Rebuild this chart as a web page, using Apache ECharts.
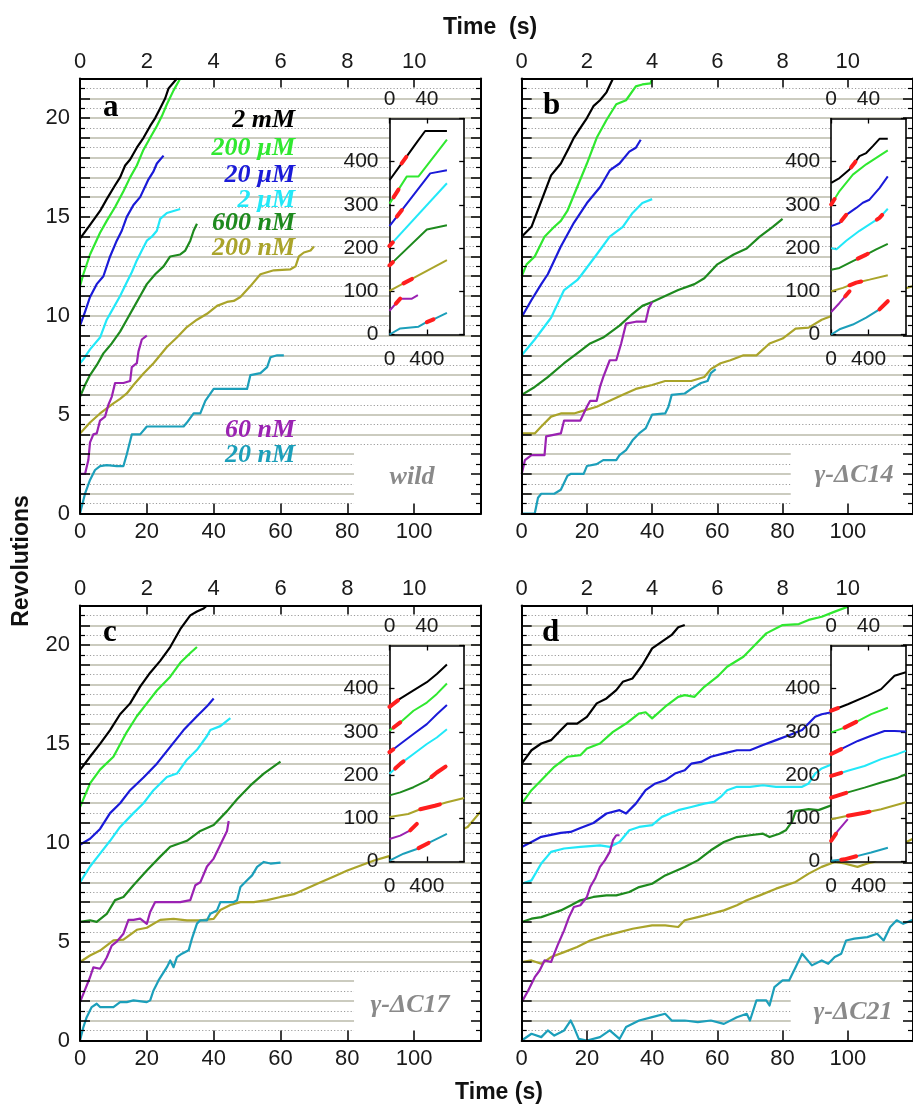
<!DOCTYPE html>
<html><head><meta charset="utf-8">
<script src="https://cdn.jsdelivr.net/npm/echarts@6/dist/echarts.min.js"></script>
<style>html,body{margin:0;padding:0;background:#fff}#c{width:913px;height:1108px}</style>
</head><body><div id="c"></div>
<script>
// ---------------- labels & colours ----------------
const concLabels = ['2 mM','200 µM','20 µM','2 µM','600 nM','200 nM','60 nM','20 nM'];
const lineColors = ['#000000','#30e830','#1a1ad8','#22e8f8','#1e8a1e','#aaa42a','#9a22b2','#1c9fba'];
const strainLabels = ['wild','γ-ΔC14','γ-ΔC17','γ-ΔC21'];
const panelLetters = ['a','b','c','d'];

// ---------------- panel a (wild) : [time s, revolutions] ----------------
const a_2mM   = [[0,13.9],[3,14.6],[6,15.3],[8,15.9],[10.5,16.6],[12,17.0],[13.5,17.6],[15,17.9],[17,18.5],[19,19.0],[21,19.6],[22.5,20.0],[24,20.5],[25.5,21.0],[26.5,21.5],[28,21.8],[29,22]];
const a_200uM = [[0,11.5],[1,12.1],[3,13.1],[6,14.2],[8,14.8],[10.5,15.5],[13,16.3],[15,17.0],[17,17.6],[19,18.4],[21,19.0],[23,19.6],[24.5,20.1],[26,20.7],[28,21.4],[30,22]];
const a_20uM  = [[0,9.5],[1.5,10.2],[3,10.95],[5,11.6],[7,12.0],[9,13.0],[11,13.8],[12.5,14.3],[14,15.0],[16,15.6],[18,16.0],[20.5,16.9],[22,17.3],[23,17.7],[25,18.1]];
const a_2uM   = [[0,7.6],[1,7.8],[3,8.3],[6,8.9],[8,9.8],[10,10.4],[12,11.0],[14,11.7],[15.5,12.2],[17,12.8],[18.5,13.3],[20,13.8],[21.5,14.0],[23,14.3],[24,14.9],[26,15.2],[28,15.3],[30,15.4]];
const a_600nM = [[0,5.9],[1.5,6.5],[3,7.0],[5,7.5],[7,8.1],[9.5,8.6],[12,9.2],[14,9.8],[16,10.4],[18,11.0],[20,11.6],[22.5,12.1],[25,12.5],[27,13.0],[30,13.1],[31.5,13.3],[33,13.8],[34,14.3],[35,14.65]];
const a_200nM = [[0,4.05],[3,4.6],[6,5.06],[10,5.57],[12,5.8],[14,6.07],[16,6.5],[19,7.08],[22,7.6],[26,8.42],[29,8.9],[32,9.43],[35,9.8],[38,10.1],[41,10.5],[44,10.7],[46,10.75],[48,10.95],[51,11.5],[54,12.1],[56,12.2],[58,12.3],[63,12.35],[64.5,12.5],[65.5,13.0],[67,13.2],[69,13.3],[70,13.5]];
const a_60nM  = [[0,2.0],[1.5,2.0],[2.5,2.7],[3,3.6],[4,4.0],[5,4.05],[6,4.7],[7.5,4.9],[8.5,5.5],[9.5,5.9],[10.5,6.6],[11,6.7],[13,6.6],[15,6.7],[15.5,7.4],[17,7.6],[17.5,8.2],[18.5,8.8],[20,9.0]];
const a_20nM  = [[0,0],[1.5,1.0],[3,1.7],[4.5,2.2],[6,2.4],[8,2.45],[11,2.4],[13,2.4],[14,3.0],[15.5,4.0],[18,4.0],[20,4.4],[24,4.4],[28,4.4],[31,4.4],[32,4.6],[34,5.06],[36,5.06],[37.5,5.7],[40,6.3],[43,6.3],[46,6.3],[50,6.3],[51,7.0],[54,7.1],[56,7.4],[57,7.9],[59,8.0],[61,8.0]];

// ---------------- panel b (γ-ΔC14) ----------------
const b_2mM   = [[0,14.0],[3,14.5],[6,15.8],[9,17.1],[12,17.7],[14.5,18.5],[16,19.0],[18,19.5],[20,20.0],[22,20.6],[24,20.9],[26,21.3],[28,22]];
const b_200uM = [[0,12.0],[1.5,12.6],[4,13.0],[7,14.0],[10,14.5],[12,14.8],[14,15.3],[17,16.5],[20,17.7],[23,19.0],[26,19.9],[29,20.7],[32,20.9],[35,21.6],[37,21.7],[39.5,21.75],[40,22]];
const b_20uM  = [[0,9.94],[3,10.8],[6,11.6],[8,12.1],[12,13.5],[16,14.7],[20,15.7],[24,16.5],[27,17.35],[30,17.7],[33,18.3],[35,18.5],[36.5,18.9]];
const b_2uM   = [[0,8.0],[4,8.8],[9,9.9],[13,11.3],[17,11.8],[18,12.0],[23,13.1],[27,14.0],[31,14.5],[34,15.2],[37,15.7],[40,15.9]];
const b_600nM = [[0,6.0],[4,6.4],[8,6.9],[13,7.6],[17,8.1],[21,8.6],[25,8.9],[30,9.5],[34,10.1],[37,10.5],[40,10.7],[44,11.0],[48,11.3],[53,11.6],[56,11.9],[60,12.6],[65,13.1],[69,13.4],[73,14.0],[77,14.5],[80,14.9]];
const b_200nM = [[0,4.05],[4,4.05],[6,4.4],[9,4.9],[12,5.06],[16,5.06],[19,5.2],[23,5.4],[27,5.7],[31,6.0],[35,6.3],[40,6.5],[44,6.7],[48,6.7],[52,6.7],[56,6.9],[58,7.3],[61,7.6],[64,7.75],[68,8.0],[72,8.0],[76,8.6],[80,8.85],[84,9.35],[88,9.4],[92,9.8],[100,10.3],[108,10.8],[116,11.3],[120,11.5]];
const b_60nM  = [[0,2.0],[1,2.7],[3,2.95],[7,2.95],[7.5,3.9],[12,4.05],[13,4.7],[18,4.7],[20,5.4],[21,5.7],[23,5.7],[24,6.4],[25,6.9],[27,7.75],[29,7.75],[30.5,8.6],[32,9.6],[35,9.7],[38,9.7],[39,10.4],[40,10.7]];
const b_20nM  = [[0,0],[4,0],[5,0.8],[6,1.0],[10,1.0],[12,1.2],[14,1.9],[15,2.0],[19,2.0],[20,2.4],[23,2.5],[25,2.7],[29,2.7],[30,2.95],[32,3.2],[34,3.7],[36,4.05],[38,4.3],[40,5.0],[44,5.06],[45,5.4],[46,6.0],[50,6.07],[52,6.3],[55,6.6],[57,6.7],[58,7.1],[59.5,7.3]];

// ---------------- panel c (γ-ΔC17) ----------------
const c_2mM   = [[0,13.67],[3,14.35],[6,15.0],[9,15.7],[12,16.5],[15,17.05],[18,17.9],[21,18.6],[24,19.2],[27,19.9],[30,20.8],[33,21.5],[35,21.7],[37,21.85],[38,22]];
const c_200uM = [[0,11.8],[3,13.0],[6,13.7],[10,14.35],[14,15.6],[17,16.4],[20,17.05],[23,17.7],[27,18.4],[30,19.1],[33,19.6],[35,19.9]];
const c_20uM  = [[0,9.9],[3,10.2],[6,10.7],[9,11.5],[12,12.0],[15,12.66],[19,13.3],[23,14.0],[27,14.85],[31,15.7],[35,16.4],[38,16.9],[40,17.3]];
const c_2uM   = [[0,8.0],[3,8.8],[6,9.45],[9,10.1],[12,10.8],[16,11.5],[19,12.0],[22,12.66],[26,13.33],[29,13.5],[32,14.2],[35,14.7],[38,15.4],[39,15.7],[42,15.9],[45,16.3]];
const c_600nM = [[0,6.0],[3,6.08],[5,6.0],[8,6.4],[10.5,7.1],[13,7.26],[16,7.85],[20,8.6],[24,9.3],[27,9.8],[32,10.1],[36,10.6],[40,10.9],[44,11.6],[47,12.2],[51,12.9],[55,13.5],[60,14.1]];
const c_200nM = [[0,3.97],[3,4.3],[6,4.55],[10,5.06],[13,5.1],[17,5.6],[20,5.7],[24,6.1],[28,6.15],[32,6.08],[36,6.08],[40,6.15],[42,6.6],[45,6.85],[48,7.0],[52,7.0],[56,7.1],[60,7.26],[64,7.4],[68,7.7],[72,8.0],[76,8.3],[80,8.6],[84,8.85],[88,9.1],[92,9.3],[100,9.7],[108,10.2],[116,10.8],[120,11.6]];
const c_60nM  = [[0,1.94],[1,2.36],[3,3.2],[4,3.7],[6,3.63],[7,3.9],[8,4.2],[9.5,4.8],[11,5.0],[13,5.4],[14.5,6.1],[16,6.1],[18,6.16],[20,5.9],[21,6.5],[22.5,7.0],[26,7.0],[30,7.0],[33,7.1],[34.5,7.85],[36,8.0],[38,8.8],[40,9.2],[42,9.9],[44,10.6],[44.5,11.1]];
const c_20nM  = [[0,0],[1,0.67],[2,1.18],[3.5,1.69],[5,1.86],[6,1.69],[10,1.69],[12,1.94],[14,1.94],[16,2.03],[20,1.94],[21,2.03],[22,2.53],[23.5,3.04],[26,3.71],[27,4.05],[28,3.71],[29,4.22],[30.5,4.39],[32.5,4.56],[33.5,5.15],[35,5.91],[36,6.08],[38,6.08],[39,6.41],[41,6.58],[42,7.0],[46,7.0],[47,7.09],[48,7.76],[50,8.1],[51.5,8.35],[53,8.78],[55,9.03],[57,8.95],[60,9.0]];

// ---------------- panel d (γ-ΔC21) ----------------
const d_2mM   = [[0,14.0],[3,14.68],[6,15.02],[9,15.19],[12,15.7],[14,16.03],[17,16.03],[20,16.37],[23,17.05],[26,17.3],[29,17.72],[31,18.14],[34,18.31],[37,18.99],[40,19.83],[43,20.17],[46,20.51],[48,20.9],[50,21.01]];
const d_200uM = [[0,11.98],[3,12.66],[6,13.16],[10,13.84],[14,14.35],[18,14.43],[20,14.77],[24,15.02],[28,15.61],[32,16.03],[36,16.54],[38,16.6],[40,16.29],[44,16.88],[48,17.38],[50,17.47],[53,17.38],[56,17.89],[60,18.4],[63,18.9],[68,19.41],[71,19.91],[75,20.59],[80,21.01],[85,21.06],[88,21.27],[92,21.43],[96,21.69],[100,21.94]];
const d_20uM  = [[0,9.79],[3,10.04],[6,10.3],[9,10.4],[12,10.5],[15,10.55],[18,10.75],[22,11.0],[26,11.48],[30,11.65],[32,11.48],[35,11.98],[38,12.66],[41,13.0],[44,13.16],[47,13.5],[50,13.67],[52,14.0],[55,14.09],[58,14.35],[62,14.52],[66,14.68],[70,14.68],[74,14.94],[78,15.19],[82,15.44],[86,15.7],[90,16.37],[92,16.5],[95,16.6]];
const d_2uM   = [[0,7.93],[3,8.1],[6,8.95],[9,9.54],[13,9.71],[18,9.79],[24,9.87],[27,9.79],[30,10.04],[33,10.63],[36,10.8],[40,10.89],[43,11.31],[48,11.65],[52,11.81],[56,11.98],[59,12.07],[61,12.32],[63,12.66],[66,12.83],[70,12.83],[74,12.91],[78,12.83],[82,12.83],[86,12.83],[88,13.0],[90,13.5],[92,13.76],[100,14.3],[110,15.0],[118,15.4]];
const d_600nM = [[0,5.99],[3,6.16],[6,6.24],[9,6.41],[12,6.58],[15,6.83],[18,7.09],[22,7.26],[26,7.34],[29,7.34],[33,7.51],[36,7.76],[40,7.93],[44,8.35],[50,8.78],[54,9.11],[58,9.62],[62,10.04],[66,10.29],[70,10.38],[74,10.46],[76,10.29],[79,10.46],[81,10.63],[83,11.1],[84,11.6],[88,11.7],[91,11.65],[100,12.2],[110,12.7],[118,13.0]];
const d_200nM = [[0,3.97],[3,4.05],[6,3.88],[9,4.22],[13,4.47],[17,4.73],[21,5.06],[26,5.32],[30,5.48],[34,5.65],[40,5.82],[44,5.82],[48,5.74],[50,6.08],[54,6.24],[58,6.41],[62,6.58],[66,6.84],[69,7.09],[73,7.34],[78,7.68],[84,8.02],[88,8.44],[92,8.78],[96,9.03],[99,8.95],[103,8.78],[106,8.95],[108,9.03],[110,9.28],[113,9.54],[117,9.96],[120,10.2]];
const d_60nM  = [[0,1.94],[2,2.53],[4,3.2],[5.5,3.54],[7,4.05],[9,3.97],[10,4.39],[11,4.81],[13,5.57],[14.5,6.24],[16,6.75],[18,6.84],[20,7.26],[21,7.76],[22.5,8.19],[24,8.78],[25.5,9.11],[27,9.54],[28,10.13],[29,10.38],[30,10.38]];
const d_20nM  = [[0,0],[3,0.34],[6,0.17],[8,0.51],[10,0.25],[13,0.51],[15,1.01],[16,0.68],[17.5,0.08],[20,0],[24,0.17],[27,0.51],[30,0.08],[32,0.68],[36,1.01],[40,1.18],[44,1.35],[46,1.01],[50,1.01],[54,0.93],[58,1.01],[62,0.84],[66,1.18],[69,1.35],[70,1.01],[72,2.03],[75,2.03],[76,1.77],[77.5,2.7],[80,3.04],[82,3.04],[84,3.71],[86,4.39],[89,3.8],[92,4.05],[94,3.88],[96,4.22],[98,4.39],[99.5,5.06],[102,5.15],[106,5.23],[109,5.4],[111,5.06],[113,5.74],[115,6.08],[117,5.9],[120,6.1]];

// ---------------- insets : [time ms-scale, revolutions] ----------------
const ia_2mM=[[0,357],[100,387],[200,417],[300,447],[382,471],[615,471]];
const ia_200uM=[[0,303],[186,366],[311,366],[615,451]];
const ia_20uM=[[0,251],[436,373],[615,380]];
const ia_2uM=[[0,205],[615,350]];
const ia_600nM=[[0,160],[400,243],[615,253]];
const ia_200nM=[[0,101],[615,172]];
const ia_60nM=[[0,55],[115,83],[240,83],[304,91]];
const ia_20nM=[[0,0],[115,14],[311,18],[382,27],[471,35],[615,50]];

const ib_2mM=[[0,351],[89,362],[196,382],[250,397],[303,413],[375,420],[446,436],[517,453],[606,453]];
const ib_200uM=[[0,301],[89,332],[232,370],[375,394],[482,409],[606,426]];
const ib_20uM=[[0,251],[89,258],[161,277],[268,293],[339,305],[410,312],[517,339],[606,366]];
const ib_2uM=[[0,200],[54,197],[161,217],[303,240],[410,255],[517,270],[606,291]];
const ib_600nM=[[0,150],[89,154],[232,170],[375,185],[482,197],[606,210]];
const ib_200nM=[[0,100],[125,108],[268,120],[410,127],[606,137]];
const ib_60nM=[[0,52],[89,73],[196,100]];
const ib_20nM=[[0,0],[89,12],[232,23],[375,39],[517,58],[606,77]];

const ic_2mM=[[0,358],[115,377],[257,396],[400,415],[507,434],[615,456]];
const ic_200uM=[[0,303],[115,322],[257,349],[400,368],[507,388],[615,412]];
const ic_20uM=[[0,253],[115,272],[257,295],[400,318],[507,341],[615,362]];
const ic_2uM=[[0,203],[115,226],[257,249],[400,272],[507,287],[615,306]];
const ic_600nM=[[0,153],[115,160],[257,172],[400,187],[507,206],[615,222]];
const ic_200nM=[[0,103],[200,110],[343,122],[486,129],[615,137],[800,147]];
const ic_60nM=[[0,52],[115,60],[222,72],[293,87]];
const ic_20nM=[[0,2],[150,18],[293,29],[436,45],[615,64]];

const id_2mM=[[0,349],[178,364],[392,384],[535,399],[678,430],[800,438]];
const id_200uM=[[0,299],[143,310],[285,325],[428,341],[607,356]];
const id_20uM=[[0,249],[143,264],[285,279],[428,291],[571,302],[678,302],[800,301]];
const id_2uM=[[0,198],[178,210],[357,221],[535,237],[714,249],[800,256]];
const id_600nM=[[0,148],[178,160],[357,171],[535,183],[714,194],[800,202]];
const id_200nM=[[0,98],[178,106],[357,113],[535,121],[800,137]];
const id_60nM=[[0,48],[71,71],[178,98]];
const id_20nM=[[0,2],[143,5],[285,13],[428,21],[607,32]];

// highlighted (red) stretches of each inset trace: [from, to] on the inset time axis
const ia_red=[[130,180],[43,96],[79,133],[0,35],[0,35],[150,240],[68,122],[400,471]];
const ib_red=[[214,260],[0,36],[107,161],[489,546],[285,392],[196,321],[150,196],[517,606]];
const ic_red=[[0,90],[43,115],[0,40],[61,150],[450,600],[330,540],[222,293],[311,418]];
const id_red=[[0,71],[143,268],[0,107],[0,107],[0,160],[178,410],[0,50],[107,268]];

const panelSeries=[
  [a_2mM,a_200uM,a_20uM,a_2uM,a_600nM,a_200nM,a_60nM,a_20nM],
  [b_2mM,b_200uM,b_20uM,b_2uM,b_600nM,b_200nM,b_60nM,b_20nM],
  [c_2mM,c_200uM,c_20uM,c_2uM,c_600nM,c_200nM,c_60nM,c_20nM],
  [d_2mM,d_200uM,d_20uM,d_2uM,d_600nM,d_200nM,d_60nM,d_20nM]];
const insetSeries=[
  [ia_2mM,ia_200uM,ia_20uM,ia_2uM,ia_600nM,ia_200nM,ia_60nM,ia_20nM],
  [ib_2mM,ib_200uM,ib_20uM,ib_2uM,ib_600nM,ib_200nM,ib_60nM,ib_20nM],
  [ic_2mM,ic_200uM,ic_20uM,ic_2uM,ic_600nM,ic_200nM,ic_60nM,ic_20nM],
  [id_2mM,id_200uM,id_20uM,id_2uM,id_600nM,id_200nM,id_60nM,id_20nM]];
const insetRed=[ia_red,ib_red,ic_red,id_red];

// ---------------- layout ----------------
const SANS='"Liberation Sans", Arial, sans-serif';
const SERIF='"Liberation Serif", "Times New Roman", serif';
const PW=401, PH=435;
const panelPos=[[80,78.5],[521.7,78.5],[80,605.5],[521.7,605.5]];
const INS_DX=309.5, INS_DY=40, INS_W=74.7, INS_H=216;

function part(arr, lo, hi){
  const at=x=>{for(let i=0;i<arr.length-1;i++){const a=arr[i],b=arr[i+1];if(x>=a[0]&&x<=b[0]){return [x,a[1]+(b[1]-a[1])*(x-a[0])/(b[0]-a[0])];}}return arr[arr.length-1];};
  const out=[at(lo)];arr.forEach(p=>{if(p[0]>lo&&p[0]<hi)out.push(p);});out.push(at(hi));return out;
}

const grids=[],xAxes=[],yAxes=[],series=[];
const axLine=w=>({show:true,onZero:false,lineStyle:{color:'#000',width:w}});
const tick=(len,w)=>({show:true,inside:true,length:len,lineStyle:{color:'#000',width:w}});
const lab=(size,margin,extra)=>Object.assign({show:true,fontSize:size,color:'#1a1a1a',fontFamily:SANS,margin:margin,showMaxLabel:false},extra||{});

panelPos.forEach(([L,T])=>grids.push({left:L,top:T,width:PW,height:PH,containLabel:false}));
panelPos.forEach(([L,T])=>grids.push({left:L+INS_DX,top:T+INS_DY,width:INS_W,height:INS_H,show:true,backgroundColor:'#ffffff',borderWidth:0,z:5}));

panelPos.forEach((pos,p)=>{
  // main x axes: 2p bottom, 2p+1 top
  xAxes.push({type:'value',gridIndex:p,position:'bottom',min:0,max:120,interval:20,z:3,axisLine:axLine(2),axisTick:tick(10,1.5),axisLabel:lab(22,7),splitLine:{show:false}});
  xAxes.push({type:'value',gridIndex:p,position:'top',min:0,max:12,interval:2,z:3,axisLine:axLine(2),axisTick:tick(9,1.5),axisLabel:lab(22,6),splitLine:{show:false}});
  // main y axes: 3p left, 3p+1 right, 3p+2 grid lines
  yAxes.push({type:'value',gridIndex:p,position:'left',min:0,max:22,interval:1,z:3,axisLine:axLine(2),axisTick:tick(10,1.5),
    minorTick:{show:true,splitNumber:2,length:5,lineStyle:{color:'#000',width:1.2}},
    axisLabel:lab(22,10,{show:p%2===0,formatter:v=>(v%5===0?String(v):'')}),splitLine:{show:false}});
  yAxes.push({type:'value',gridIndex:p,position:'right',min:0,max:22,interval:1,z:3,axisLine:axLine(2),axisTick:tick(10,1.5),
    minorTick:{show:true,splitNumber:2,length:5,lineStyle:{color:'#000',width:1.2}},axisLabel:{show:false},splitLine:{show:false}});
  yAxes.push({type:'value',gridIndex:p,position:'left',min:0,max:22,interval:1,z:0,axisLine:{show:false},axisTick:{show:false},axisLabel:{show:false},
    splitLine:{show:true,lineStyle:{color:'#cbcbbf',width:1.8}},
    minorTick:{show:false,splitNumber:2},
    minorSplitLine:{show:true,lineStyle:{color:'#9c9c9c',width:1,type:[1.2,2.1]}}});
});
panelPos.forEach((pos,p)=>{
  const g=4+p;
  xAxes.push({type:'value',gridIndex:g,position:'bottom',min:0,max:800,interval:400,z:6,axisLine:axLine(1.6),axisTick:tick(5,1.3),axisLabel:lab(21,14),splitLine:{show:false}});
  xAxes.push({type:'value',gridIndex:g,position:'top',min:0,max:80,interval:40,z:6,axisLine:axLine(1.6),axisTick:tick(5,1.3),axisLabel:lab(21,9),splitLine:{show:false}});
  yAxes.push({type:'value',gridIndex:g,position:'left',min:0,max:500,interval:100,z:6,axisLine:axLine(1.6),axisTick:tick(5,1.3),axisLabel:lab(21,11),splitLine:{show:false}});
  yAxes.push({type:'value',gridIndex:g,position:'right',min:0,max:500,interval:100,z:6,axisLine:axLine(1.6),axisTick:tick(5,1.3),axisLabel:{show:false},splitLine:{show:false}});
});

panelSeries.forEach((list,p)=>{
  list.forEach((data,k)=>{
    series.push({type:'line',name:concLabels[k],xAxisIndex:2*p,yAxisIndex:3*p,data:data,symbol:'none',z:2,silent:true,
      lineStyle:{color:lineColors[k],width:2.2,join:'round'}});
  });
});
insetSeries.forEach((list,p)=>{
  list.forEach((data,k)=>{
    series.push({type:'line',xAxisIndex:8+2*p,yAxisIndex:12+2*p,data:data,symbol:'none',z:7,silent:true,
      lineStyle:{color:lineColors[k],width:2}});
  });
  list.forEach((data,k)=>{
    const r=insetRed[p][k];
    series.push({type:'line',xAxisIndex:8+2*p,yAxisIndex:12+2*p,data:part(data,r[0],r[1]),symbol:'none',z:8,silent:true,
      lineStyle:{color:'#ff1e1e',width:4,cap:'round'}});
  });
});

const chart=echarts.init(document.getElementById('c'),null,{renderer:'canvas'});
chart.setOption({animation:false,backgroundColor:'#ffffff',grid:grids,xAxis:xAxes,yAxis:yAxes,series:series});

// ---------------- annotations ----------------
const els=[];
const boxCorner=[[82,3.3],[82.5,3.3],[82,3.2],[82.5,2.5]];
boxCorner.forEach((b,p)=>{
  const tl=chart.convertToPixel({xAxisIndex:2*p,yAxisIndex:3*p},b);
  const br=chart.convertToPixel({xAxisIndex:2*p,yAxisIndex:3*p},[120,0]);
  els.push({type:'rect',z:1,silent:true,shape:{x:tl[0],y:tl[1],width:br[0]-tl[0],height:br[1]-tl[1]},style:{fill:'#ffffff'}});
});
const txt=(t,x,y,o)=>els.push({type:'text',z:4,silent:true,x:x,y:y,rotation:(o&&o.rot)||0,
  style:Object.assign({text:t,x:0,y:0,align:'center',verticalAlign:'middle',fill:'#111'},o&&o.style)});
txt('Time  (s)',490,28,{style:{fontSize:23,fontWeight:'bold',fontFamily:SANS}});
txt('Time (s)',499,1093,{style:{fontSize:23,fontWeight:'bold',fontFamily:SANS}});
txt('Revolutions',22,561,{rot:Math.PI/2,style:{fontSize:23,fontWeight:'bold',fontFamily:SANS}});
const letterPos=[[103,108],[543,106],[103,633],[542,633]];
panelLetters.forEach((l,p)=>txt(l,letterPos[p][0],letterPos[p][1],{style:{align:'left',fontSize:31,fontWeight:'bold',fontFamily:SERIF,fill:'#000'}}));
const strainPos=[[412,477],[854,475],[410,1005],[853,1012]];
strainLabels.forEach((s,p)=>txt(s,strainPos[p][0],strainPos[p][1],{style:{fontSize:26,fontWeight:'bold',fontStyle:'italic',fontFamily:SERIF,fill:'#8a8a8a'}}));
const legendY=[120,148,175,200,223,248,430,455];
concLabels.forEach((c,k)=>txt(c,295,legendY[k],{style:{align:'right',fontSize:26,fontWeight:'bold',fontStyle:'italic',fontFamily:SERIF,fill:lineColors[k]}}));
chart.setOption({graphic:{elements:els}});
</script></body></html>
